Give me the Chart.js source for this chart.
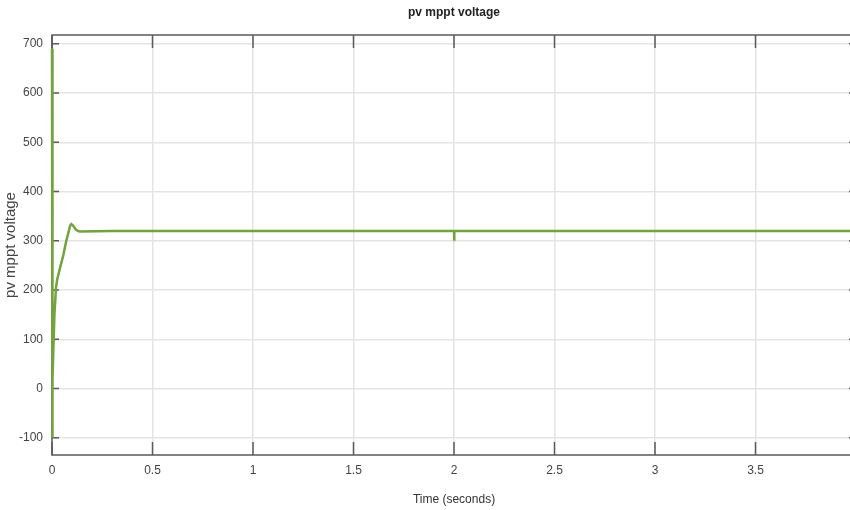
<!DOCTYPE html>
<html>
<head>
<meta charset="utf-8">
<title>pv mppt voltage</title>
<script src="https://cdn.jsdelivr.net/npm/chart.js@4"></script>
<style>
  html, body { margin: 0; padding: 0; background: #fff; overflow: hidden; }
  #wrap { width: 908px; height: 510px; }
</style>
</head>
<body>
<div id="wrap"><canvas id="mpptChart" width="908" height="510"></canvas></div>
<script>
// time (s) and pv mppt voltage
const timeValues = [0, 0.0008, 0.004, 0.012, 0.02, 0.026, 0.04, 0.056, 0.07, 0.081, 0.09, 0.096, 0.105, 0.118, 0.13, 0.14, 0.3, 1.0, 1.999, 2.0, 2.001, 2.002, 3.0, 4.0];
const voltageValues = [690, -100, 20, 150, 205, 222, 245, 270, 298, 316, 330, 334, 331, 323, 320, 319, 320, 320, 320, 320, 300, 320, 320, 320];

const chartTitle = "pv mppt voltage";
const xTitle = "Time (seconds)";
const yTitle = "pv mppt voltage";

const xMin = 0, xMax = 4, xStep = 0.5;
const yMin = -135, yMax = 718, yStep = 100;

const FONT = "'Liberation Sans Narrow', 'Liberation Sans', Arial, sans-serif";

const points = timeValues.map((t, i) => ({ x: t, y: voltageValues[i] }));

/************ FRAME + INWARD TICKS (matlab style) ************/
const framePlugin = {
  id: "frame",
  beforeDatasetsDraw(chart) {
    const { ctx, chartArea: a, scales } = chart;
    ctx.save();
    ctx.strokeStyle = "#5a5a5a";
    ctx.lineWidth = 1.5;
    ctx.strokeRect(a.left, a.top, a.right - a.left, a.bottom - a.top);

    ctx.beginPath();
    scales.x.ticks.forEach((tk) => {
      const px = scales.x.getPixelForValue(tk.value);
      ctx.moveTo(px, a.bottom); ctx.lineTo(px, a.bottom - 13);
      ctx.moveTo(px, a.top); ctx.lineTo(px, a.top + 13);
    });
    scales.y.ticks.forEach((tk) => {
      const py = scales.y.getPixelForValue(tk.value);
      ctx.moveTo(a.left, py); ctx.lineTo(a.left + 7, py);
      ctx.moveTo(a.right, py); ctx.lineTo(a.right - 7, py);
    });
    ctx.stroke();
    ctx.restore();
  },
};

new Chart(document.getElementById("mpptChart"), {
  type: "line",
  data: {
    datasets: [
      {
        label: "pv mppt voltage",
        data: points,
        borderColor: "#72a33c",
        borderWidth: 2.5,
        pointRadius: 0,
        tension: 0,
        fill: false,
        clip: 4,
      },
    ],
  },
  options: {
    responsive: false,
    animation: false,
    layout: { padding: { left: 0, right: 52, top: 0, bottom: 0 } },
    plugins: {
      legend: { display: false },
      tooltip: { enabled: false },
      title: {
        display: true,
        fullSize: false,
        text: chartTitle,
        color: "#222",
        font: { family: FONT, size: 12, weight: "bold" },
        padding: { top: 5, bottom: 15.6 },
      },
    },
    scales: {
      x: {
        type: "linear",
        min: xMin,
        max: xMax,
        afterFit: (s) => { s.height = 55; },
        ticks: {
          stepSize: xStep,
          color: "#444",
          padding: 8,
          font: { family: FONT, size: 12 },
          callback: (v) => String(Number(v)),
        },
        grid: { color: "#e4e4e4", lineWidth: 1.5, drawTicks: false },
        border: { display: false },
        title: {
          display: true,
          text: xTitle,
          color: "#333",
          font: { family: FONT, size: 12 },
          padding: { top: 0, bottom: 2.8 },
        },
      },
      y: {
        type: "linear",
        min: yMin,
        max: yMax,
        afterFit: (s) => { s.width = 52; },
        ticks: {
          stepSize: yStep,
          includeBounds: false,
          color: "#444",
          padding: 9,
          font: { family: FONT, size: 12 },
        },
        grid: { color: "#e4e4e4", lineWidth: 1.5, drawTicks: false },
        border: { display: false },
        title: {
          display: true,
          text: yTitle,
          color: "#444",
          font: { family: FONT, size: 15 },
          padding: { top: 2, bottom: 0 },
        },
      },
    },
  },
  plugins: [framePlugin],
});
</script>
</body>
</html>
